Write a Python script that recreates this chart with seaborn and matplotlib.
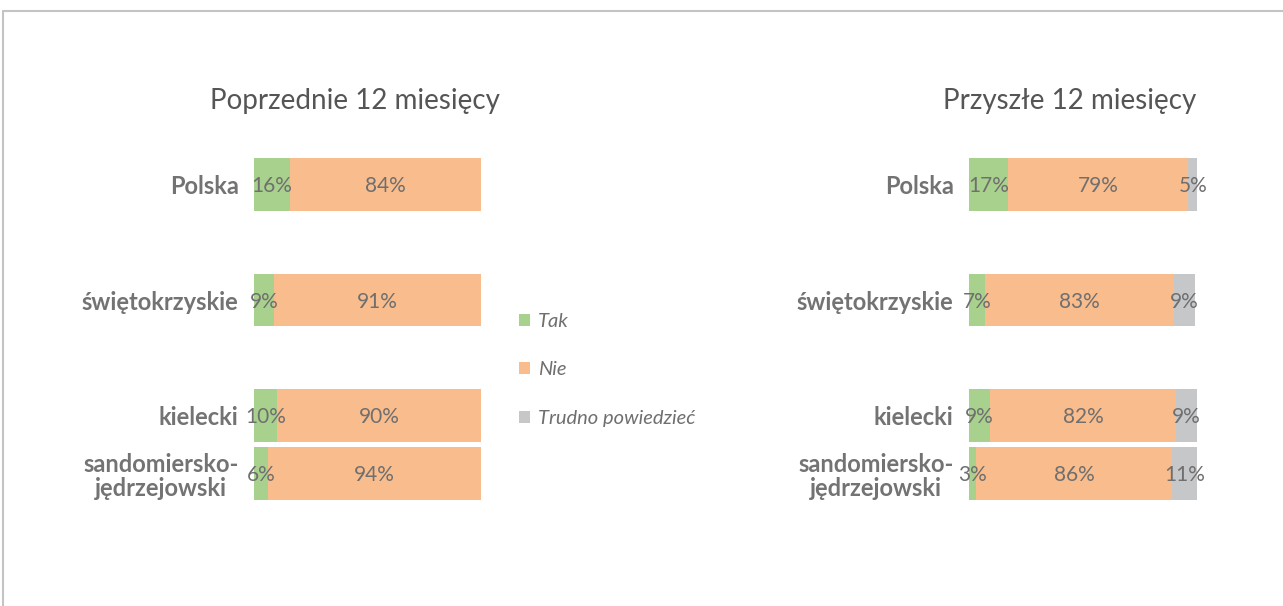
import matplotlib
matplotlib.use("Agg")
import matplotlib.pyplot as plt
import seaborn as sns
import pandas as pd
import numpy as np
from matplotlib.lines import Line2D
from matplotlib.patches import Patch

sns.set_theme(style="white")
plt.rcParams["font.family"] = ["Lato", "DejaVu Sans"]

# Regions, with blank slots separating the groups of bars
regions = ["Polska", "świętokrzyskie", "kielecki", "sandomiersko-\njędrzejowski"]
slots = ["Polska", "", "świętokrzyskie", " ", "kielecki", "sandomiersko-\njędrzejowski"]

answers = ["Tak", "Nie", "Trudno powiedzieć"]
colors = {"Tak": "#a9d18e", "Nie": "#f9bc8c", "Trudno powiedzieć": "#c6c7c9"}

# Previous 12 months (%)
prev_tak = [16, 9, 10, 6]
prev_nie = [84, 91, 90, 94]
prev_trudno = [0, 0, 0, 0]

# Next 12 months (%)
next_tak = [17, 7, 9, 3]
next_nie = [79, 83, 82, 86]
next_trudno = [5, 9, 9, 11]

titles = ["Poprzednie 12 miesięcy", "Przyszłe 12 miesięcy"]

TEXT = "#6f6f6f"
LABEL = "#737373"

fig = plt.figure(figsize=(12.83, 6.06), dpi=100)
fig.patch.set_facecolor("white")

ax_l = fig.add_axes([254 / 1283, 1 - 502.5 / 606, 227 / 1283, 347 / 606])
ax_r = fig.add_axes([969 / 1283, 1 - 502.5 / 606, 228 / 1283, 347 / 606])


def draw_panel(ax, tak, nie, trudno):
    df = pd.DataFrame({"region": regions, "Tak": tak, "Nie": nie,
                       "Trudno powiedzieć": trudno})
    cum = df[answers].cumsum(axis=1)
    # stacked bars: draw cumulative totals from the longest to the shortest
    for ans in reversed(answers):
        sns.barplot(data=cum.assign(region=df["region"]), x=ans, y="region",
                    order=slots, color=colors[ans], width=0.91, ax=ax,
                    saturation=1, linewidth=0, orient="h")
    ypos = {s: i for i, s in enumerate(slots)}
    for _, row in df.iterrows():
        start = 0
        for ans in answers:
            v = row[ans]
            if v > 0:
                ax.text(start + v / 2, ypos[row["region"]] + 0.03, f"{v}%",
                        ha="center", va="center", fontsize=15, color=TEXT,
                        clip_on=False)
            start += v
    ax.set_xlim(0, 100)
    ax.set_ylim(len(slots) - 0.5, -0.5)
    ax.set_xlabel("")
    ax.set_ylabel("")
    ax.set_xticks([])
    for sp in ax.spines.values():
        sp.set_visible(False)
    ax.tick_params(axis="y", length=0, pad=11)
    for lab in ax.get_yticklabels():
        lab.set_fontweight("bold")
        lab.set_fontsize(17)
        lab.set_color(LABEL)
        lab.set_multialignment("center")
        lab.set_linespacing(1.1)
    ax.set_facecolor("none")


draw_panel(ax_l, prev_tak, prev_nie, prev_trudno)
draw_panel(ax_r, next_tak, next_nie, next_trudno)

fig.text(355 / 1283, 1 - 101 / 606, titles[0], ha="center", va="center",
         fontsize=20, color="#555555", fontweight="normal")
fig.text(1070 / 1283, 1 - 101 / 606, titles[1], ha="center", va="center",
         fontsize=20, color="#555555", fontweight="normal")

handles = [Patch(facecolor=colors[a], edgecolor="none") for a in answers]
fig.legend(handles, answers, loc="center left",
           bbox_to_anchor=(501 / 1283, 1 - 370 / 606), frameon=False,
           handlelength=0.55, handleheight=0.55, handletextpad=0.4,
           labelspacing=1.55, prop={"style": "italic", "size": 14.5},
           labelcolor=TEXT)

# outer frame of the chart area
fig.add_artist(Line2D([3 / 1283, 1], [1 - 11 / 606, 1 - 11 / 606],
                      transform=fig.transFigure, color="#c4c4c4", lw=1.5))
fig.add_artist(Line2D([3 / 1283, 3 / 1283], [0, 1 - 11 / 606],
                      transform=fig.transFigure, color="#c4c4c4", lw=1.5))

fig.savefig("out.png", dpi=100, facecolor="white")
